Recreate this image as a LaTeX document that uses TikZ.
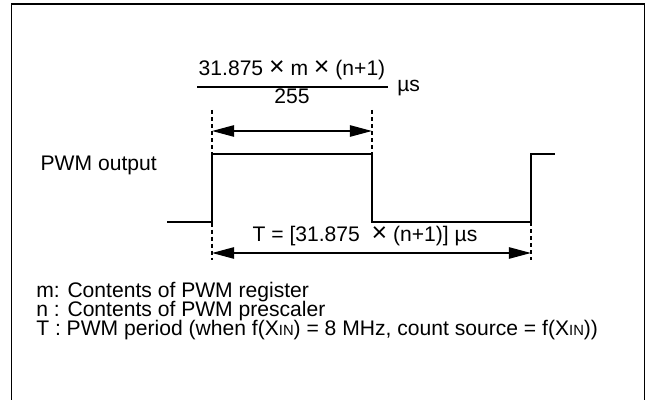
\documentclass[tikz,border=0pt]{standalone}
\usepackage{fontspec}
\setmainfont{Liberation Sans}
\usetikzlibrary{arrows.meta, positioning, calc}

\newcommand{\xin}{X{\fontsize{10.5}{10}\selectfont IN}}
\newcommand{\tms}{{\fontsize{19}{14}\selectfont ×}}

\begin{document}
\begin{tikzpicture}[
      x=0.025cm, y=-0.025cm,
      every node/.style={inner sep=0pt, font=\fontsize{15}{14}\selectfont},
      wave/.style={line width=1.3pt},
      guide/.style={line width=1.1pt, dash pattern=on 3pt off 2pt},
      dim/.style={line width=1.3pt, {Triangle[length=0.55cm,width=0.28cm]}-{Triangle[length=0.55cm,width=0.28cm]}}
    ]
  \useasboundingbox (0,0) rectangle (647,400);
  \clip (0,0) rectangle (647,400);
  % frame
  \draw[line width=1.4pt] (11.5,410) -- (11.5,4) -- (644.5,4) -- (644.5,410);

  % waveform
  \coordinate (w0) at (167,222);
  \coordinate (r1) at (212,222);
  \coordinate (h1) at (212,154);
  \coordinate (h2) at (372,154);
  \coordinate (f2) at (372,222);
  \coordinate (l3) at (531,222);
  \coordinate (h3) at (531,154);
  \coordinate (w4) at (555,154);
  \draw[wave] (w0) -- (r1) -- (h1) -- (h2) -- (f2) -- (l3) -- (h3) -- (w4);
  \node[anchor=base east] (out) at (157,171) {PWM output};

  % guides
  \coordinate (g1t) at (212,110);
  \coordinate (g1b) at (212,260);
  \coordinate (g2t) at (372,110);
  \coordinate (g3b) at (531,260);
  \draw[guide] (g1t) -- (g1b);
  \draw[guide] (g2t) -- (h2);
  \draw[guide] (l3) -- (g3b);

  % high time
  \coordinate (a1) at (212,131);
  \coordinate (a2) at (372,131);
  \draw[dim] (a1) -- (a2);
  \node[anchor=base] (num) at (292,76) {31.875 \tms\ m \tms\ (n+1)};
  \coordinate (bar1) at (197,87);
  \coordinate (bar2) at (388,87);
  \draw[line width=1.1pt] (bar1) -- (bar2);
  \node[anchor=base] (den) at (292,104) {255};
  \node[anchor=base west] (unit) at (397,92) {µs};

  % period
  \coordinate (b1) at (212,253);
  \coordinate (b2) at (531,253);
  \draw[dim] (b1) -- (b2);
  \node[anchor=base] (per) at (365,242) {T = [31.875\ \ \tms\ (n+1)] µs};

  % notes
  \node[anchor=base west] (lm) at (36,298) {m: Contents of PWM register};
  \node[anchor=base west] (ln) at (36,317) {n : Contents of PWM prescaler};
  \node[anchor=base west] (lt) at (36,336) {T : PWM period (when f(\xin) = 8 MHz, count source = f(\xin))};
\end{tikzpicture}
\end{document}
